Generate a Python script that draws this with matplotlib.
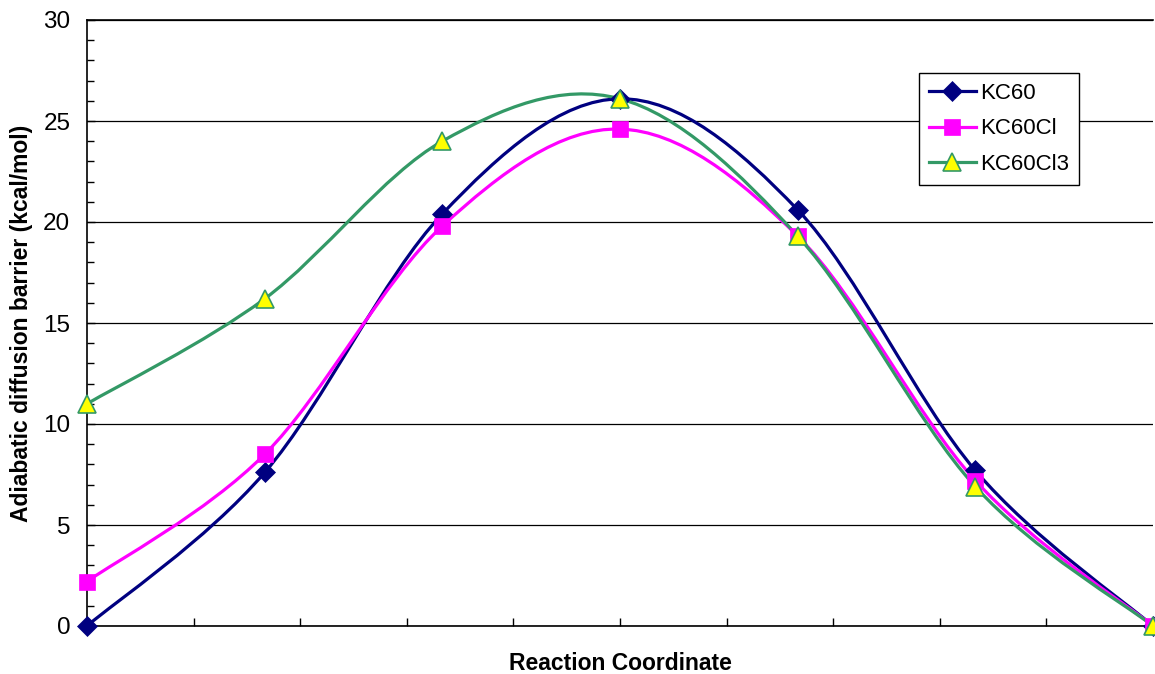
import numpy as np
import matplotlib
matplotlib.use("Agg")
import matplotlib.pyplot as plt
from matplotlib.path import Path
from matplotlib.patches import PathPatch
from matplotlib.lines import Line2D
from matplotlib.ticker import MultipleLocator, NullFormatter

plt.rcParams['font.family'] = ['Liberation Sans', 'DejaVu Sans']

# данные
reaction_coord = [0, 1.667, 3.333, 5, 6.667, 8.333, 10]
kc60 = [0, 7.6, 20.4, 26.1, 20.6, 7.7, 0]
kc60cl = [2.2, 8.5, 19.8, 24.6, 19.3, 7.2, 0]
kc60cl3 = [11.0, 16.2, 24.0, 26.1, 19.3, 6.9, 0]

series = [
    ('KC60', kc60, '#000080', 'D', '#000080', 10.5),
    ('KC60Cl', kc60cl, '#FF00FF', 's', '#FF00FF', 12.0),
    ('KC60Cl3', kc60cl3, '#339966', '^', '#FFFF00', 12.5),
]


# сглаженная линия как в Excel (кривые Безье)
def smooth_path(xs, ys):
    pts = np.column_stack([xs, ys]).astype(float)
    n = len(pts)
    verts = [pts[0]]
    codes = [Path.MOVETO]
    for i in range(n - 1):
        p0 = pts[i - 1] if i > 0 else pts[i]
        p1 = pts[i]
        p2 = pts[i + 1]
        p3 = pts[i + 2] if i + 2 < n else pts[i + 1]
        c1 = p1 + (p2 - p0) / 6.0
        c2 = p2 - (p3 - p1) / 6.0
        verts += [c1, c2, p2]
        codes += [Path.CURVE4] * 3
    return Path(verts, codes)


fig = plt.figure(figsize=(11.55, 6.74), dpi=100)
ax = fig.add_axes([87 / 1155, 1 - 626 / 674, (1153 - 87) / 1155, (626 - 20) / 674])

handles = []
for name, vals, col, mk, face, ms in series:
    ew = 1.2 if mk == '^' else 0.5
    patch = PathPatch(smooth_path(reaction_coord, vals), facecolor='none',
                      edgecolor=col, lw=2.3, zorder=3, clip_on=False)
    ax.add_patch(patch)
    ax.plot(reaction_coord, vals, ls='none', marker=mk, ms=ms,
            mfc=face, mec=col, mew=ew, zorder=4, clip_on=False)
    handles.append(Line2D([], [], color=col, lw=2.3, marker=mk, ms=ms,
                          mfc=face, mec=col, mew=ew))

ax.set_xlim(0, 10)
ax.set_ylim(0, 30)
ax.xaxis.set_major_locator(MultipleLocator(1))
ax.xaxis.set_major_formatter(NullFormatter())
ax.yaxis.set_major_locator(MultipleLocator(5))
ax.yaxis.set_minor_locator(MultipleLocator(1))
ax.tick_params(axis='x', direction='in', length=6, width=1, color='black')
ax.tick_params(axis='y', which='major', direction='in', length=6, width=1,
               labelsize=17.5, pad=12)
ax.tick_params(axis='y', which='minor', direction='in', length=5, width=1)
ax.grid(axis='y', which='major', color='black', lw=0.9)
ax.set_axisbelow(True)
for s in ['left', 'bottom', 'top']:
    ax.spines[s].set_linewidth(1.2)
ax.spines['right'].set_visible(False)

ax.set_xlabel('Reaction Coordinate', fontsize=16.5, fontweight='bold', labelpad=15)
ax.set_ylabel('Adiabatic diffusion barrier (kcal/mol)', fontsize=16.5,
              fontweight='bold', labelpad=7.5)

leg = fig.legend(handles, [s[0] for s in series], loc='upper left',
                 bbox_to_anchor=(919 / 1155, 1 - 73 / 674), fontsize=16,
                 frameon=True, fancybox=False, edgecolor='black',
                 handlelength=2.1, handletextpad=0.2, labelspacing=0.65,
                 borderpad=0.45, borderaxespad=0)
leg.get_frame().set_linewidth(1.0)
leg.get_frame().set_alpha(1)

fig.savefig('out.png', dpi=100)
